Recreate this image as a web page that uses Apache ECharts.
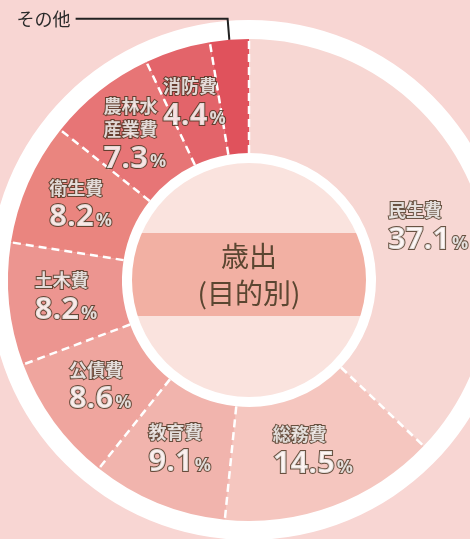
<!DOCTYPE html>
<html>
<head>
<meta charset="utf-8">
<script src="https://cdn.jsdelivr.net/npm/echarts@6/dist/echarts.min.js"></script>
<style>
  html, body { margin: 0; padding: 0; background: #f8d6d3; }
  #chart { width: 470px; height: 539px; }
</style>
</head>
<body>
<div id="chart"></div>
<script>
// 歳出（目的別）
var categories = ['民生費', '総務費', '教育費', '公債費', '土木費', '衛生費', '農林水産業費', '消防費', 'その他'];
var shares = [37.1, 14.5, 9.1, 8.6, 8.2, 8.2, 7.3, 4.4, 2.6];
var sliceColors = ['#f7d7d3', '#f5c6bf', '#f1b4ad', '#efa59e', '#ec9590', '#ea857f', '#e77576', '#e3646a', '#e0525c'];

var cx = 249, cy = 280;
var outerR = 241, innerR = 127;

// 区切り線と各ラベル位置（累積比率）
var bounds = [0];
var mids = [];
shares.forEach(function (v, i) {
    mids.push(bounds[i] + v / 2);
    bounds.push(Math.round((bounds[i] + v) * 10) / 10);
});
bounds.pop();

var chart = echarts.init(document.getElementById('chart'));

var txtStroke = '#45321f';
var pieData = categories.map(function (name, i) {
    var item = {
        name: name,
        value: shares[i],
        itemStyle: { color: sliceColors[i] },
        label: { show: false }
    };
    if (name == 'その他') {
        item.label = {
            show: true,
            position: 'outside',
            formatter: '{b}',
            color: '#2b2b2b',
            fontSize: 18,
            fontFamily: 'Noto Sans CJK JP'
        };
        item.labelLine = {
            show: true,
            length: 21,
            length2: 152,
            lineStyle: { color: '#222', width: 2 }
        };
    }
    return item;
});

var lineSeries = bounds.map(function (b) {
    return {
        type: 'line',
        coordinateSystem: 'polar',
        silent: true,
        symbol: 'none',
        z: 5,
        lineStyle: { color: '#fff', width: 2.5, type: [8, 5] },
        data: [[innerR / outerR, b], [1, b]]
    };
});

var midR = (innerR + outerR) / 2 / outerR;
var labelData = categories.slice(0, categories.length - 1).map(function (name, i) {
    var item = { name: name, value: [midR, mids[i], shares[i]] };
    if (name == '民生費') item.label = { offset: [10, 21] };
    return item;
});

function richStyle(size, weight, lh, family) {
    return {
        fontSize: size, fontWeight: weight, fontFamily: family,
        color: '#fff', textBorderColor: txtStroke, textBorderWidth: 2,
        lineHeight: lh, align: 'left'
    };
}
var pStyle = richStyle(18, 'bold', 36, 'Open Sans');
pStyle.padding = [7, 0, 0, 2];

var option = {
    backgroundColor: '#f8d6d3',
    animation: false,
    polar: { center: [cx, cy], radius: outerR },
    angleAxis: { type: 'value', min: 0, max: 100, startAngle: 90, clockwise: true, show: false },
    radiusAxis: { type: 'value', min: 0, max: 1, show: false },
    graphic: [
        { type: 'ring', shape: { cx: cx, cy: cy, r: 260, r0: 239 }, style: { fill: '#fff' }, silent: true },
        { type: 'circle', shape: { cx: cx, cy: cy, r: 118 }, style: { fill: '#fae3de' }, silent: true },
        { type: 'rect', shape: { x: cx - 117, y: 233, width: 234, height: 83 }, style: { fill: '#f2b0a3' }, silent: true },
        { type: 'ring', shape: { cx: cx, cy: cy, r: 128, r0: 117 }, style: { fill: '#fff' }, silent: true },
        {
            type: 'text', x: cx, y: 275, silent: true,
            style: {
                text: '歳出\n(目的別)',
                fontSize: 28,
                fontFamily: 'Noto Sans CJK JP',
                lineHeight: 37,
                fill: '#5b4631',
                align: 'center',
                verticalAlign: 'middle'
            }
        }
    ],
    series: [{
        type: 'pie',
        center: [cx, cy],
        radius: [innerR, outerR],
        startAngle: 90,
        clockwise: true,
        silent: true,
        z: 3,
        avoidLabelOverlap: false,
        labelLine: { show: false },
        data: pieData
    }, {
        type: 'scatter',
        coordinateSystem: 'polar',
        silent: true,
        symbolSize: 0,
        z: 6,
        data: labelData,
        label: {
            show: true,
            position: 'inside',
            formatter: function (p) {
                var n = p.name;
                var nameTxt = n.length > 3 ? '{n|' + n.slice(0, 3) + '}\n{n|' + n.slice(3) + '}' : '{n|' + n + '}';
                return nameTxt + '\n{v|' + p.value[2].toFixed(1) + '}{p|%}';
            },
            rich: {
                n: richStyle(18, 'bold', 23, 'Noto Sans CJK JP'),
                v: richStyle(31, 'bold', 36, 'Open Sans'),
                p: pStyle
            }
        }
    }].concat(lineSeries)
};

chart.setOption(option);
</script>
</body>
</html>
